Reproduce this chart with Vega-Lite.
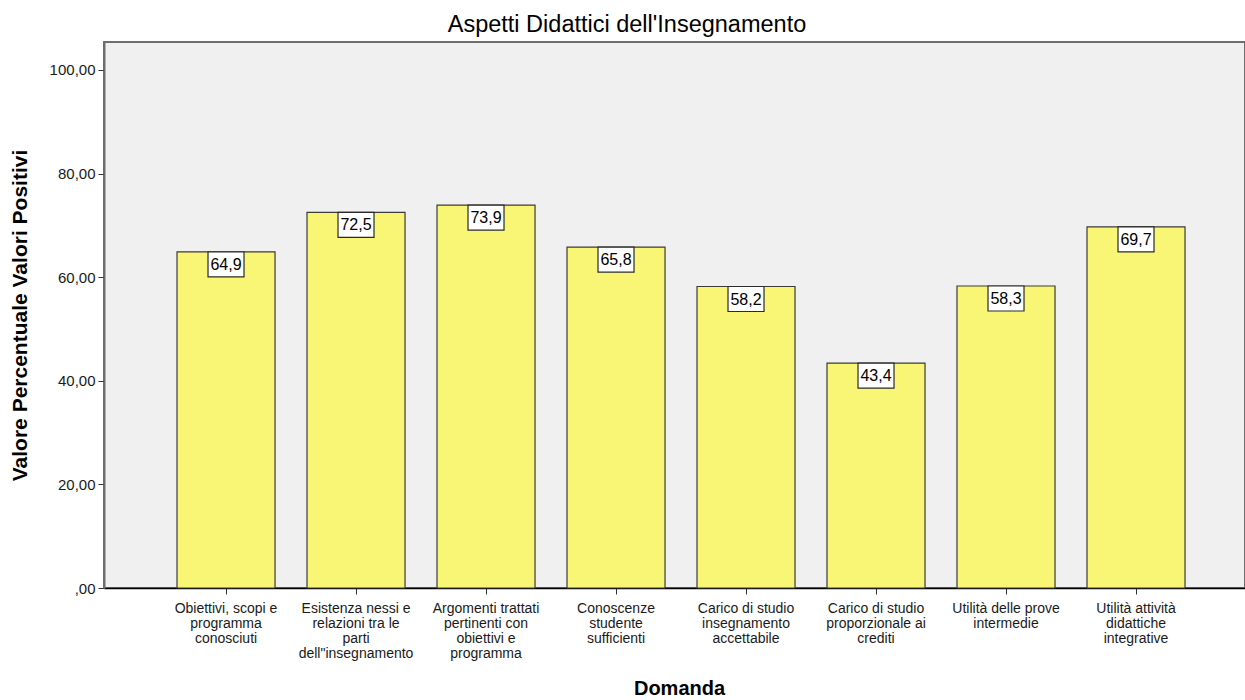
{
  "$schema": "https://vega.github.io/schema/vega-lite/v6.json",
  "autosize": {"type": "none"},
  "width": 1141,
  "height": 546,
  "padding": {"left": 104, "top": 42, "right": 0, "bottom": 112},
  "background": "white",
  "config": {
    "font": "Liberation Sans",
    "locale": {"number": {"decimal": ",", "thousands": ".", "grouping": [3], "currency": ["", " €"]}},
    "view": {"fill": "#F0F0F0", "stroke": "#6e6e6e", "strokeWidth": 2}
  },
  "title": {
    "text": "Aspetti Didattici dell'Insegnamento",
    "fontSize": 23.5,
    "fontWeight": "normal",
    "font": "Liberation Sans",
    "color": "#000000",
    "anchor": "middle",
    "frame": "bounds",
    "offset": 6
  },
  "data": {
    "values": [
      {"Domanda": "Obiettivi, scopi e\nprogramma\nconosciuti", "Valore": 64.9},
      {"Domanda": "Esistenza nessi e\nrelazioni tra le\nparti\ndell\"insegnamento", "Valore": 72.5},
      {"Domanda": "Argomenti trattati\npertinenti con\nobiettivi e\nprogramma", "Valore": 73.9},
      {"Domanda": "Conoscenze\nstudente\nsufficienti", "Valore": 65.8},
      {"Domanda": "Carico di studio\ninsegnamento\naccettabile", "Valore": 58.2},
      {"Domanda": "Carico di studio\nproporzionale ai\ncrediti", "Valore": 43.4},
      {"Domanda": "Utilità delle prove\nintermedie", "Valore": 58.3},
      {"Domanda": "Utilità attività\ndidattiche\nintegrative", "Valore": 69.7}
    ]
  },
  "encoding": {
    "x": {
      "field": "Domanda",
      "type": "nominal",
      "sort": null,
      "scale": {"paddingInner": 0.246, "paddingOuter": 0.5115, "align": 0.549},
      "axis": {
        "title": "Domanda",
        "titleFont": "Liberation Sans",
        "titleFontSize": 20,
        "titleFontWeight": "bold",
        "titleColor": "#000000",
        "titleBaseline": "middle",
        "titleY": 100,
        "titleX": 575,
        "labelAngle": 0,
        "labelFont": "Liberation Sans",
        "labelFontSize": 14,
        "labelColor": "#1a1a1a",
        "labelLineHeight": 15,
        "labelPadding": 7,
        "labelExpr": "split(datum.label, '\\n')",
        "labelBaseline": "top",
        "labelLimit": 0,
        "tickSize": 6,
        "tickColor": "#333333",
        "domainColor": "#000000",
        "domainWidth": 1.5
      }
    },
    "y": {
      "field": "Valore",
      "type": "quantitative",
      "scale": {"domain": [0, 105.4], "nice": false, "zero": true},
      "axis": {
        "title": "Valore Percentuale Valori Positivi",
        "titleFont": "Liberation Sans",
        "titleFontSize": 21,
        "titleFontWeight": "bold",
        "titleColor": "#000000",
        "titleAngle": -90,
        "titleBaseline": "middle",
        "titleAlign": "center",
        "titleX": -84,
        "titleY": 273,
        "values": [0, 20, 40, 60, 80, 100],
        "format": ".2f",
        "labelExpr": "datum.value == 0 ? ',00' : datum.label",
        "labelFont": "Liberation Sans",
        "labelFontSize": 15,
        "labelColor": "#1a1a1a",
        "labelPadding": 3,
        "tickSize": 6,
        "tickColor": "#333333",
        "domainColor": "#6e6e6e",
        "domainWidth": 2,
        "grid": false
      }
    }
  },
  "layer": [
    {
      "mark": {"type": "bar", "fill": "#FAF675", "stroke": "#3a3a3a", "strokeWidth": 1.2}
    },
    {
      "mark": {
        "type": "point",
        "shape": "M-1,0H1V1.389H-1Z",
        "size": 1296,
        "filled": true,
        "fill": "#FFFFFF",
        "stroke": "#2a2a2a",
        "strokeWidth": 1.2,
        "opacity": 1
      }
    },
    {
      "mark": {
        "type": "text",
        "dy": 13,
        "baseline": "middle",
        "align": "center",
        "fontSize": 16,
        "font": "Liberation Sans",
        "color": "#000000"
      },
      "encoding": {"text": {"field": "Valore", "type": "quantitative", "format": ".1f"}}
    }
  ]
}
